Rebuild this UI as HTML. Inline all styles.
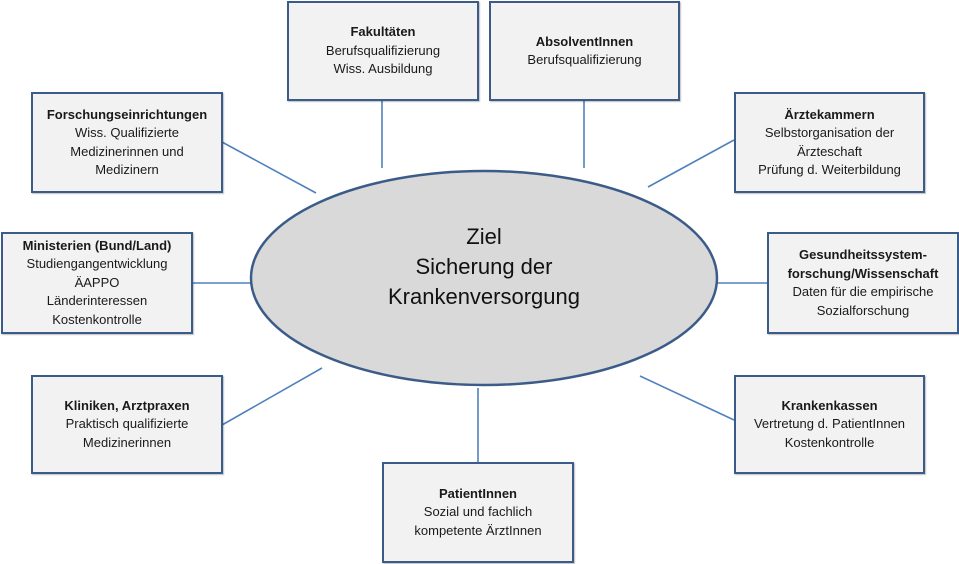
<!DOCTYPE html>
<html><head><meta charset="utf-8"><style>
body{margin:0;width:959px;height:564px;background:#fff;position:relative;overflow:hidden;font-family:"Liberation Sans",sans-serif;color:#1a1a1a}
.b{position:absolute;box-sizing:border-box;background:#f2f2f2;border:2px solid #3b5b89;display:flex;flex-direction:column;justify-content:center;align-items:center;text-align:center;font-size:13px;line-height:18.5px;box-shadow:1px 1px 1px rgba(0,0,0,0.25)}
.b b{font-weight:bold}
svg{position:absolute;left:0;top:0}
.c{position:absolute;left:250px;top:222px;width:468px;text-align:center;font-size:22px;line-height:30px;color:#111}
</style></head><body>
<svg width="959" height="564">
<g stroke="#4f81bd" stroke-width="1.6">
<line x1="222" y1="142" x2="316" y2="193"/>
<line x1="382" y1="100" x2="382" y2="168"/>
<line x1="584" y1="100" x2="584" y2="168"/>
<line x1="734" y1="140" x2="648" y2="187"/>
<line x1="192" y1="283" x2="252" y2="283"/>
<line x1="716" y1="283" x2="767" y2="283"/>
<line x1="222" y1="425" x2="322" y2="368"/>
<line x1="734" y1="420" x2="640" y2="376"/>
<line x1="478" y1="388" x2="478" y2="462"/>
</g>
<ellipse cx="484" cy="278" rx="233" ry="107" fill="#d9d9d9" stroke="#3b5b89" stroke-width="2.5"/>
</svg>
<div class="c">Ziel<br>Sicherung der<br>Krankenversorgung</div>
<div class="b" style="left:31px;top:92px;width:192px;height:101px"><b>Forschungseinrichtungen</b>Wiss. Qualifizierte<br>Medizinerinnen und<br>Medizinern</div>
<div class="b" style="left:287px;top:1px;width:192px;height:100px"><b>Fakultäten</b>Berufsqualifizierung<br>Wiss. Ausbildung</div>
<div class="b" style="left:489px;top:1px;width:191px;height:100px"><b>AbsolventInnen</b>Berufsqualifizierung</div>
<div class="b" style="left:734px;top:92px;width:191px;height:101px"><b>Ärztekammern</b>Selbstorganisation der<br>Ärzteschaft<br>Prüfung d. Weiterbildung</div>
<div class="b" style="left:1px;top:232px;width:192px;height:102px"><b>Ministerien (Bund/Land)</b>Studiengangentwicklung<br>ÄAPPO<br>Länderinteressen<br>Kostenkontrolle</div>
<div class="b" style="left:767px;top:232px;width:192px;height:102px"><b>Gesundheitssystem-<br>forschung/Wissenschaft</b>Daten für die empirische<br>Sozialforschung</div>
<div class="b" style="left:31px;top:375px;width:192px;height:99px"><b>Kliniken, Arztpraxen</b>Praktisch qualifizierte<br>Medizinerinnen</div>
<div class="b" style="left:734px;top:375px;width:191px;height:99px"><b>Krankenkassen</b>Vertretung d. PatientInnen<br>Kostenkontrolle</div>
<div class="b" style="left:382px;top:462px;width:192px;height:101px"><b>PatientInnen</b>Sozial und fachlich<br>kompetente ÄrztInnen</div>
</body></html>
